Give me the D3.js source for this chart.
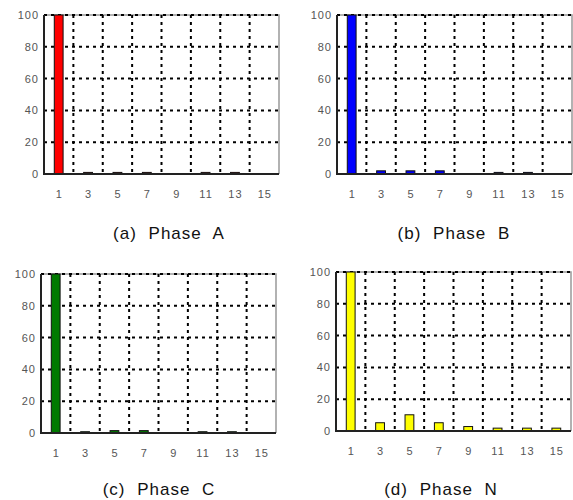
<!DOCTYPE html>
<html>
<head>
<meta charset="utf-8">
<script src="https://cdn.jsdelivr.net/npm/d3@7"></script>
<style>
  body { margin: 0; background: #fff; }
  svg { display: block; }
  .tick text { font-family: "Liberation Sans", Arial, sans-serif; font-size: 11px; fill: #555; letter-spacing: 1px; }
  .caption { font-family: "Liberation Sans", Arial, sans-serif; font-size: 17px; fill: #111; letter-spacing: 1px; word-spacing: 6px; }
</style>
</head>
<body>
<div id="chart"></div>
<script>
// harmonic orders on the x axis
const HARMONICS = [1, 3, 5, 7, 9, 11, 13, 15];
const Y_TICKS = [0, 20, 40, 60, 80, 100];
const GRID_X = [2, 4, 6, 8, 10, 12, 14];

// values (percent of fundamental)
const PHASE_A = [100, 1, 1, 1, 0, 1, 1, 0];
const PHASE_B = [100, 2, 2, 2, 0, 1, 1, 0];
const PHASE_C = [100, 0.8, 1.5, 1.5, 0, 0.8, 0.8, 0];
const PHASE_N = [100, 5.2, 10.2, 5.2, 2.8, 1.8, 1.8, 1.8];

const CAPTIONS = ["(a) Phase A", "(b) Phase B", "(c) Phase C", "(d) Phase N"];
const COLORS = ["#ff0000", "#0000ff", "#007a00", "#ffff00"];

const WIDTH = 573;
const HEIGHT = 500;
const PLOT_W = 235;
const PLOT_H = 159;

// top-left corner of each plot area
const panels = [
  { values: PHASE_A, left: 44, top: 15, capX: 169, capY: 239 },
  { values: PHASE_B, left: 337, top: 15, capX: 454, capY: 239 },
  { values: PHASE_C, left: 41, top: 274, capX: 159, capY: 495 },
  { values: PHASE_N, left: 336, top: 272, capX: 441, capY: 495 },
];

const svg = d3.select("#chart")
  .append("svg")
  .attr("width", WIDTH)
  .attr("height", HEIGHT);

const x = d3.scaleLinear().domain([0, 16]).range([0, PLOT_W]);
const y = d3.scaleLinear().domain([0, 100]).range([PLOT_H, 0]);
const BAR_HALF = 0.3;

panels.forEach((p, i) => {
  const g = svg.append("g").attr("transform", `translate(${p.left},${p.top})`);

  // top and right frame, grey
  g.append("path")
    .attr("d", `M0,0H${PLOT_W}V${PLOT_H}`)
    .attr("fill", "none")
    .attr("stroke", "#999")
    .attr("stroke-width", 1.5);

  // dotted grid
  g.selectAll(".hgrid")
    .data(Y_TICKS.slice(1))
    .join("line")
    .attr("class", "hgrid")
    .attr("x1", 0).attr("x2", PLOT_W)
    .attr("y1", d => y(d)).attr("y2", d => y(d))
    .attr("stroke", "#000")
    .attr("stroke-width", 2)
    .attr("stroke-dasharray", "3,4");

  g.selectAll(".vgrid")
    .data(GRID_X)
    .join("line")
    .attr("class", "vgrid")
    .attr("x1", d => x(d)).attr("x2", d => x(d))
    .attr("y1", 0).attr("y2", PLOT_H)
    .attr("stroke", "#000")
    .attr("stroke-width", 2)
    .attr("stroke-dasharray", "3,4");

  // bars
  g.selectAll(".bar")
    .data(HARMONICS.map((h, j) => ({ h, v: p.values[j] })).filter(d => d.v > 0))
    .join("rect")
    .attr("class", "bar")
    .attr("x", d => x(d.h - BAR_HALF))
    .attr("width", d => x(d.h + BAR_HALF) - x(d.h - BAR_HALF))
    .attr("y", d => y(d.v))
    .attr("height", d => y(0) - y(d.v))
    .attr("fill", COLORS[i])
    .attr("stroke", "#111")
    .attr("stroke-width", 1);

  // left and bottom frame, black
  g.append("path")
    .attr("d", `M0,0V${PLOT_H}H${PLOT_W}`)
    .attr("fill", "none")
    .attr("stroke", "#222")
    .attr("stroke-width", 2);

  // axes labels only
  g.append("g")
    .call(d3.axisLeft(y).tickValues(Y_TICKS).tickSize(0).tickPadding(5))
    .call(a => a.select(".domain").remove());

  g.append("g")
    .attr("transform", `translate(0,${PLOT_H})`)
    .call(d3.axisBottom(x).tickValues(HARMONICS).tickSize(0).tickPadding(16))
    .call(a => a.select(".domain").remove());

  svg.append("text")
    .attr("class", "caption")
    .attr("x", p.capX)
    .attr("y", p.capY)
    .attr("text-anchor", "middle")
    .text(CAPTIONS[i]);
});
</script>
</body>
</html>
